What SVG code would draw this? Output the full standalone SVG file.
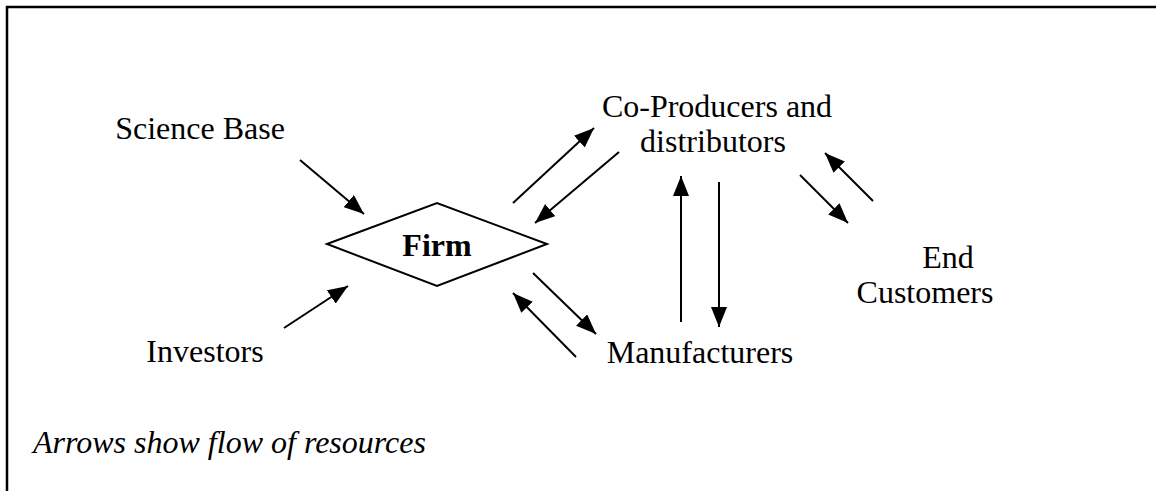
<svg xmlns="http://www.w3.org/2000/svg" width="1156" height="491" viewBox="0 0 1156 491">
<defs>
<marker id="ah" markerUnits="userSpaceOnUse" markerWidth="20" markerHeight="16" viewBox="0 0 20 16" refX="20" refY="8" orient="auto">
<path d="M0,0 L20,8 L0,16 Z" fill="#000"/>
</marker>
<style>
.t{font-family:"Liberation Serif","Times New Roman",serif;font-size:32px;fill:#000}
.c line{stroke:#000;stroke-width:2;marker-end:url(#ah)}
</style>
</defs>
<rect width="1156" height="491" fill="#fff"/>
<path d="M7,491 V7 H1156" fill="none" stroke="#000" stroke-width="2.5"/>
<g id="firm">
<polygon points="327,244 437,203 547,244 437,286" fill="#fff" stroke="#000" stroke-width="2"/>
<text class="t" x="437" y="256" text-anchor="middle" font-weight="bold">Firm</text>
</g>
<g id="science"><text class="t" x="200" y="139" text-anchor="middle">Science Base</text></g>
<g id="investors"><text class="t" x="205" y="362" text-anchor="middle">Investors</text></g>
<g id="coproducers">
<text class="t" x="717" y="117" text-anchor="middle">Co-Producers and</text>
<text class="t" x="713" y="152" text-anchor="middle">distributors</text>
</g>
<g id="manufacturers"><text class="t" x="700" y="363" text-anchor="middle">Manufacturers</text></g>
<g id="customers">
<text class="t" x="948" y="268" text-anchor="middle">End</text>
<text class="t" x="925" y="303" text-anchor="middle">Customers</text>
</g>
<g id="note"><text class="t" x="33" y="453" font-style="italic">Arrows show flow of resources</text></g>
<g class="c" id="connectors">
<line x1="300" y1="160" x2="364" y2="214"/>
<line x1="284" y1="328" x2="348" y2="286"/>
<line x1="513" y1="203" x2="594" y2="128"/>
<line x1="619" y1="152" x2="535" y2="223"/>
<line x1="533" y1="273" x2="596" y2="334"/>
<line x1="576" y1="357" x2="513" y2="293"/>
<line x1="681" y1="322" x2="681" y2="176"/>
<line x1="719" y1="182" x2="719" y2="327"/>
<line x1="800" y1="175" x2="848" y2="223"/>
<line x1="873" y1="201" x2="825" y2="153"/>
</g>
</svg>
